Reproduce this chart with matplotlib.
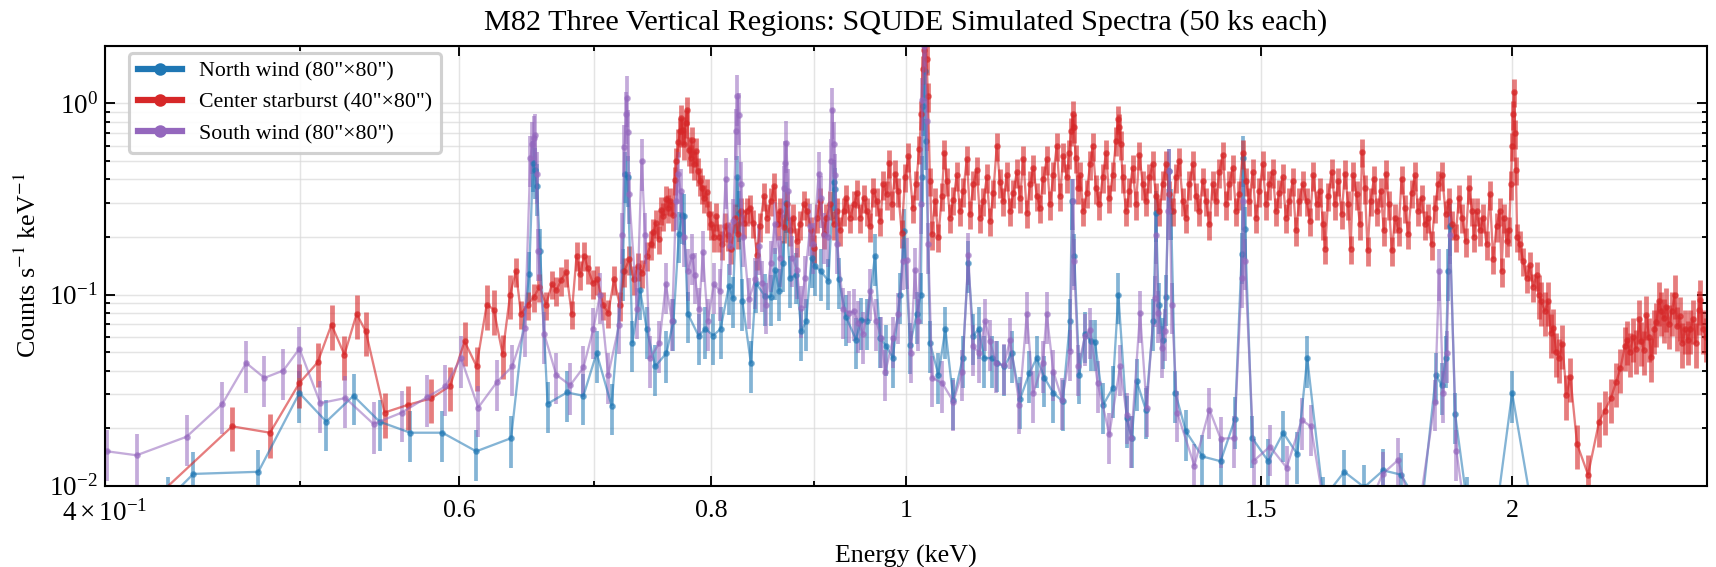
import numpy as np
import matplotlib
matplotlib.use("Agg")
import matplotlib.pyplot as plt
from matplotlib.lines import Line2D

plt.rcParams['font.family'] = ['Liberation Serif', 'DejaVu Serif']
plt.rcParams['mathtext.fontset'] = 'stix'

# --- North wind (80"x80") ---
north_energy = [
    0.430, 0.4425, 0.4767, 0.4996, 0.5152, 0.5315, 0.5476, 0.5671, 0.5884, 0.6116,
    0.6365, 0.6498, 0.6526, 0.6538, 0.6556, 0.6580, 0.6636, 0.6785, 0.6914, 0.7019,
    0.7140, 0.7232, 0.7254, 0.7273, 0.7313, 0.7377, 0.7433, 0.7506, 0.7603, 0.7664,
    0.7712, 0.7739, 0.7757, 0.7790, 0.7887, 0.7950, 0.8020, 0.8088, 0.8166, 0.8204,
    0.8245, 0.8260, 0.8293, 0.8373, 0.8423, 0.8510, 0.8566, 0.8610, 0.8650, 0.8687,
    0.8715, 0.8758, 0.8820, 0.8870, 0.8920, 0.8975, 0.9010, 0.9070, 0.9150, 0.9204,
    0.9218, 0.9260, 0.9336, 0.9444, 0.9496, 0.9566, 0.9650, 0.9707, 0.9778, 0.9850,
    0.9932, 0.9978, 1.0046, 1.0123, 1.0170, 1.0187, 1.0199, 1.0215, 1.0230, 1.0278,
    1.0377, 1.0460, 1.0556, 1.0670, 1.0737, 1.0801, 1.0867, 1.0934, 1.1029, 1.1100,
    1.1189, 1.1285, 1.1393, 1.1515, 1.1613, 1.1716, 1.1835, 1.1962, 1.2063, 1.2090,
    1.2122, 1.2192, 1.2271, 1.2352, 1.2413, 1.2531, 1.2667, 1.2749, 1.2871, 1.2945,
    1.3019, 1.3154, 1.3269, 1.3310, 1.3351, 1.3412, 1.3463, 1.3505, 1.3540, 1.3607,
    1.3774, 1.4034, 1.4331, 1.4568, 1.4680, 1.4707, 1.4736, 1.4860, 1.5134, 1.5394,
    1.5644, 1.5824, 1.6116, 1.6508, 1.6889, 1.7260, 1.7612, 1.8034, 1.8332, 1.8452,
    1.8543, 1.8590, 1.8627, 1.8741, 1.8986, 1.9500, 2.0003, 2.0600,
]
north_rate = [
    0.0085, 0.0115, 0.0118, 0.0305, 0.0216, 0.0295, 0.0216, 0.0189, 0.0189, 0.0151,
    0.0177, 0.128, 0.49, 0.45, 0.37, 0.169, 0.0268, 0.0307, 0.0295, 0.0494,
    0.0262, 0.1326, 0.43, 0.41, 0.056, 0.105, 0.066, 0.042, 0.0494, 0.0725,
    0.208, 0.262, 0.258, 0.0795, 0.0608, 0.066, 0.061, 0.066, 0.111, 0.0953,
    0.41, 0.268, 0.0923, 0.0438, 0.1146, 0.098, 0.0972, 0.134, 0.104, 0.147,
    0.30, 0.122, 0.127, 0.0643, 0.0725, 0.155, 0.141, 0.1326, 0.118, 0.39,
    0.355, 0.12, 0.0764, 0.058, 0.0735, 0.073, 0.159, 0.059, 0.0535, 0.0465,
    0.10, 0.215, 0.0547, 0.079, 0.10, 0.41, 0.97, 1.48, 0.64, 0.0557,
    0.038, 0.066, 0.028, 0.0465, 0.146, 0.061, 0.066, 0.0465, 0.0465, 0.044,
    0.042, 0.0494, 0.0284, 0.0388, 0.0465, 0.0366, 0.0305, 0.0276, 0.0725, 0.31,
    0.159, 0.038, 0.0622, 0.0569, 0.0565, 0.0265, 0.0324, 0.10, 0.0225, 0.0177,
    0.0352, 0.025, 0.0725, 0.268, 0.0886, 0.058, 0.0972, 0.443, 0.274, 0.0305,
    0.0192, 0.0142, 0.0134, 0.0223, 0.162, 0.52, 0.22, 0.0177, 0.0134, 0.0189,
    0.0146, 0.0465, 0.0085, 0.0118, 0.0098, 0.012, 0.0114, 0.0075, 0.038, 0.0335,
    0.0465, 0.1326, 0.228, 0.0236, 0.0085, 0.004, 0.0305, 0.005,
]

# --- Center starburst (40"x80") ---
center_energy = [
    0.4200, 0.4626, 0.4831, 0.4996, 0.5101, 0.5183, 0.5260, 0.5334, 0.5390, 0.5507,
    0.5660, 0.5810, 0.5937, 0.6035, 0.6118, 0.6190, 0.6240, 0.6303, 0.6358,
    0.6400, 0.6437, 0.6488, 0.6535, 0.6575, 0.6625, 0.6670, 0.6703, 0.6740, 0.6780,
    0.6822, 0.6860, 0.6886, 0.6920, 0.6948, 0.6990, 0.7026, 0.7070, 0.7113, 0.7160,
    0.7208, 0.7245, 0.7286, 0.7323, 0.7358, 0.7397, 0.7433, 0.7468, 0.7490, 0.7510,
    0.7534, 0.7553, 0.7577, 0.7597, 0.7617, 0.7638, 0.7660, 0.7675, 0.7690, 0.7708,
    0.7722, 0.7730, 0.7746, 0.7757, 0.7772, 0.7787, 0.7800, 0.7817, 0.7830, 0.7846,
    0.7864, 0.7880, 0.7900, 0.7920, 0.7937, 0.7960, 0.7980, 0.8003, 0.8027, 0.8050,
    0.8078, 0.8100, 0.8130, 0.8160, 0.8188, 0.8220, 0.8250, 0.8280, 0.8310, 0.8333,
    0.8370, 0.8397, 0.8432, 0.8460, 0.8500, 0.8530, 0.8566, 0.8600, 0.8637, 0.8660,
    0.8697, 0.8730, 0.8757, 0.8790, 0.8825, 0.8860, 0.8896, 0.8930, 0.8970, 0.9000,
    0.9027, 0.9065, 0.9100, 0.9130, 0.9170, 0.9204, 0.9240, 0.9270, 0.9310, 0.9340,
    0.9380, 0.9420, 0.9455, 0.9490, 0.9525, 0.9560, 0.9600, 0.9633, 0.9670, 0.9710,
    0.9744, 0.9780, 0.9810, 0.9840, 0.9875, 0.9910, 0.9950, 0.9990,
    1.0027, 1.0077, 1.0115, 1.0153, 1.0176, 1.0192, 1.0207, 1.0222, 1.0238, 1.0253,
    1.0278, 1.0298, 1.0337, 1.0377, 1.0417, 1.0448, 1.0477, 1.0516, 1.0556, 1.0597,
    1.0637, 1.0677, 1.0719, 1.0760, 1.0801, 1.0842, 1.0883, 1.0925, 1.0967, 1.1008,
    1.1050, 1.1093, 1.1135, 1.1177, 1.1220, 1.1263, 1.1306, 1.1349, 1.1393, 1.1436,
    1.1481, 1.1524, 1.1568, 1.1613, 1.1656, 1.1700, 1.1746, 1.1790, 1.1835, 1.1881,
    1.1926, 1.1971, 1.2018, 1.2053, 1.2081, 1.2100, 1.2119, 1.2142, 1.2170, 1.2202,
    1.2248, 1.2296, 1.2342, 1.2380, 1.2427, 1.2474, 1.2523, 1.2570, 1.2618, 1.2667,
    1.2715, 1.2740, 1.2759, 1.2783, 1.2812, 1.2861, 1.2910, 1.2960, 1.3009, 1.3059,
    1.3109, 1.3159, 1.3209, 1.3260, 1.3310, 1.3360, 1.3412, 1.3463, 1.3514, 1.3566,
    1.3618, 1.3669, 1.3722, 1.3774, 1.3827, 1.3881, 1.3933, 1.3986, 1.4040, 1.4094,
    1.4148, 1.4201, 1.4255, 1.4309, 1.4365, 1.4419, 1.4474, 1.4530, 1.4585, 1.4640,
    1.4697, 1.4753, 1.4808, 1.4866, 1.4922, 1.4979, 1.5037, 1.5094, 1.5151, 1.5210,
    1.5267, 1.5325, 1.5384, 1.5442, 1.5501, 1.5561, 1.5620, 1.5680, 1.5740, 1.5812,
    1.5872, 1.5933, 1.5994, 1.6055, 1.6116, 1.6153, 1.6209, 1.6271, 1.6333, 1.6395,
    1.6458, 1.6520, 1.6583, 1.6628, 1.6678, 1.6743, 1.6806, 1.6851, 1.6903, 1.6955,
    1.7013, 1.7077, 1.7142, 1.7209, 1.7273, 1.7313, 1.7372, 1.7432, 1.7498, 1.7566,
    1.7627, 1.7693, 1.7761, 1.7830, 1.7897, 1.7965, 1.8034, 1.8103, 1.8172, 1.8241,
    1.8311, 1.8381, 1.8465, 1.8537, 1.8606, 1.8677, 1.8750, 1.8821, 1.8892, 1.8966,
    1.9038, 1.9110, 1.9148, 1.9205, 1.9277, 1.9350, 1.9426, 1.9499, 1.9573, 1.9649,
    1.9723, 1.9762, 1.9814, 1.9875, 1.9935, 1.9973, 2.0003, 2.0026, 2.0050, 2.0073,
    2.0089, 2.0119, 2.0179, 2.0257, 2.0337, 2.0411, 2.0489, 2.0569, 2.0617, 2.0677,
    2.0765, 2.0843, 2.0901, 2.0963, 2.1043, 2.1107, 2.1188, 2.1285, 2.1382, 2.1545,
    2.1818, 2.2095, 2.2241, 2.2397, 2.2528, 2.2642, 2.2755, 2.2815, 2.2884, 2.2970,
    2.3060, 2.3129, 2.3190, 2.3254, 2.3324, 2.3394, 2.3459, 2.3530, 2.3594, 2.3665,
    2.3730, 2.3793, 2.3866, 2.3939, 2.4013, 2.4096, 2.4160, 2.4230, 2.4306, 2.4379,
    2.4455, 2.4529, 2.4603, 2.4678, 2.4756, 2.4812, 2.4887, 2.4965,
]
center_rate = [
    0.0079, 0.0204, 0.0189, 0.0344, 0.0441, 0.0696, 0.0484, 0.0791, 0.0642, 0.0241,
    0.0265, 0.0286, 0.0333, 0.0569, 0.0421, 0.0886, 0.0834, 0.0490, 0.100,
    0.1326, 0.0791, 0.0886, 0.0972, 0.110, 0.0886, 0.1137, 0.105, 0.119, 0.1315,
    0.0791, 0.160, 0.1273, 0.160, 0.137, 0.1146, 0.1199, 0.0886, 0.080, 0.1199,
    0.0876, 0.1326, 0.153, 0.1199, 0.141, 0.130, 0.160, 0.183, 0.2123, 0.2377,
    0.196, 0.277, 0.258, 0.315, 0.285, 0.309, 0.26, 0.398, 0.50, 0.63,
    0.716, 0.838, 0.727, 0.613, 0.79, 0.926, 0.57, 0.52, 0.644, 0.48,
    0.564, 0.445, 0.393, 0.36, 0.32, 0.344, 0.263, 0.2335, 0.20, 0.258,
    0.20, 0.183, 0.228, 0.204, 0.174, 0.253, 0.208, 0.274, 0.238, 0.274,
    0.285, 0.238, 0.161, 0.228, 0.328, 0.253, 0.309, 0.37, 0.2335, 0.274,
    0.225, 0.297, 0.217, 0.253, 0.19, 0.2335, 0.297, 0.274, 0.217, 0.176,
    0.253, 0.309, 0.208, 0.253, 0.297, 0.2335, 0.274, 0.217, 0.274, 0.32,
    0.253, 0.297, 0.34, 0.253, 0.32, 0.274, 0.228, 0.348, 0.309, 0.243,
    0.378, 0.335, 0.49, 0.297, 0.43, 0.348, 0.211, 0.413,
    0.53, 0.285, 0.378, 0.58, 0.88, 1.52, 1.9, 2.6, 1.7, 1.09,
    0.394, 0.207, 0.309, 0.20, 0.328, 0.55, 0.394, 0.253, 0.314, 0.42,
    0.274, 0.348, 0.51, 0.264, 0.378, 0.45, 0.253, 0.309, 0.41, 0.243,
    0.34, 0.60, 0.387, 0.309, 0.42, 0.274, 0.34, 0.436, 0.32, 0.51,
    0.268, 0.378, 0.46, 0.328, 0.285, 0.404, 0.51, 0.297, 0.42, 0.60,
    0.328, 0.53, 0.41, 0.55, 0.72, 0.88, 0.75, 0.52, 0.36, 0.42,
    0.274, 0.34, 0.48, 0.60, 0.36, 0.297, 0.41, 0.55, 0.32, 0.42,
    0.64, 0.83, 0.75, 0.613, 0.41, 0.274, 0.348, 0.46, 0.297, 0.54,
    0.378, 0.309, 0.41, 0.48, 0.328, 0.274, 0.378, 0.48, 0.335, 0.274,
    0.41, 0.50, 0.309, 0.253, 0.378, 0.48, 0.328, 0.274, 0.393, 0.309,
    0.2335, 0.378, 0.309, 0.436, 0.54, 0.297, 0.378, 0.46, 0.274, 0.335,
    0.55, 0.393, 0.309, 0.436, 0.253, 0.348, 0.48, 0.297, 0.378, 0.436,
    0.274, 0.34, 0.41, 0.253, 0.309, 0.393, 0.217, 0.309, 0.378, 0.309,
    0.243, 0.42, 0.297, 0.348, 0.2335, 0.174, 0.328, 0.436, 0.297, 0.393,
    0.264, 0.43, 0.297, 0.174, 0.42, 0.335, 0.2335, 0.56, 0.36, 0.17,
    0.309, 0.404, 0.274, 0.348, 0.217, 0.43, 0.297, 0.17, 0.253, 0.217,
    0.404, 0.285, 0.208, 0.34, 0.42, 0.274, 0.32, 0.2335, 0.253, 0.183,
    0.285, 0.378, 0.42, 0.264, 0.309, 0.2335, 0.20, 0.32, 0.253, 0.19,
    0.36, 0.274, 0.20, 0.274, 0.217, 0.253, 0.183, 0.335, 0.154, 0.228,
    0.274, 0.1326, 0.253, 0.19, 0.217, 0.378, 0.60, 0.88, 1.15, 0.70,
    0.45, 0.20, 0.183, 0.15, 0.122, 0.142, 0.11, 0.126, 0.10, 0.092,
    0.0818, 0.092, 0.063, 0.067, 0.050, 0.0465, 0.055, 0.0299, 0.037, 0.0165,
    0.0114, 0.0216, 0.0247, 0.0287, 0.0347, 0.041, 0.0536, 0.058, 0.050, 0.060,
    0.052, 0.074, 0.057, 0.051, 0.078, 0.060, 0.047, 0.066, 0.072, 0.092,
    0.082, 0.075, 0.086, 0.070, 0.082, 0.100, 0.068, 0.077, 0.056, 0.066,
    0.058, 0.066, 0.074, 0.056, 0.083, 0.094, 0.066, 0.060,
]

# --- South wind (80"x80") ---
south_energy = [
    0.4010, 0.4147, 0.4391, 0.4574, 0.4701, 0.4800, 0.4905, 0.4996, 0.5117, 0.5266,
    0.5438, 0.5617, 0.5781, 0.5903, 0.6010, 0.6130, 0.6265, 0.6373, 0.6466, 0.6507,
    0.6522, 0.6531, 0.6544, 0.6555, 0.6565, 0.6611, 0.6702, 0.6810, 0.6914, 0.6992,
    0.7047, 0.7113, 0.7203, 0.7228, 0.7245, 0.7259, 0.7264, 0.7274, 0.7285, 0.7351,
    0.7390, 0.7420, 0.7462, 0.7542, 0.7597, 0.7652, 0.7687, 0.7708, 0.7726, 0.7753,
    0.7790, 0.7830, 0.7853, 0.7893, 0.7926, 0.7970, 0.8027, 0.8085, 0.8135, 0.8172,
    0.8208, 0.8233, 0.8245, 0.8258, 0.8276, 0.8301, 0.8355, 0.8418, 0.8452, 0.8485,
    0.8518, 0.8566, 0.8603, 0.8659, 0.8694, 0.8710, 0.8721, 0.8738, 0.8780, 0.8826,
    0.8866, 0.8908, 0.8961, 0.8994, 0.9049, 0.9071, 0.9099, 0.9143, 0.9178, 0.9191,
    0.9206, 0.9223, 0.9244, 0.9308, 0.9372, 0.9421, 0.9468, 0.9522, 0.9601, 0.9666,
    0.9720, 0.9767, 0.9854, 0.9912, 0.9965, 1.0007, 1.0053, 1.0103, 1.0141, 1.0173,
    1.0188, 1.0207, 1.0222, 1.0238, 1.0257, 1.0303, 1.0422, 1.0556, 1.0665, 1.0739,
    1.0793, 1.0874, 1.0947, 1.1008, 1.1084, 1.1185, 1.1263, 1.1384, 1.1481, 1.1568,
    1.1693, 1.1746, 1.1835, 1.1957, 1.2063, 1.2100, 1.2119, 1.2179, 1.2271, 1.2342,
    1.2450, 1.2618, 1.2773, 1.2871, 1.2939, 1.3069, 1.3169, 1.3289, 1.3310, 1.3346,
    1.3396, 1.3448, 1.3495, 1.3514, 1.3550, 1.3638, 1.3907, 1.4148, 1.4331, 1.4557,
    1.4680, 1.4707, 1.4736, 1.4888, 1.5163, 1.5455, 1.5723, 1.5890, 1.6148, 1.6800,
    1.7247, 1.7558, 1.7930, 1.8311, 1.8402, 1.8486, 1.8558, 1.8627, 1.8769, 1.8950,
]
south_rate = [
    0.0151, 0.0144, 0.018, 0.0267, 0.0438, 0.0366, 0.040, 0.052, 0.027, 0.0287,
    0.021, 0.0241, 0.029, 0.033, 0.0465, 0.0256, 0.035, 0.042, 0.0669, 0.52,
    0.613, 0.66, 0.68, 0.427, 0.169, 0.062, 0.038, 0.0335, 0.0415, 0.0657,
    0.10, 0.038, 0.0696, 0.206, 0.59, 0.88, 1.07, 0.71, 0.335, 0.0835,
    0.50, 0.206, 0.0465, 0.0557, 0.113, 0.0725, 0.31, 0.427, 0.35, 0.20,
    0.1326, 0.16, 0.127, 0.0835, 0.166, 0.0725, 0.113, 0.104, 0.40, 0.18,
    0.243, 0.72, 1.09, 0.87, 0.38, 0.20, 0.0942, 0.12, 0.18, 0.115,
    0.0886, 0.147, 0.2335, 0.156, 0.36, 0.49, 0.62, 0.348, 0.156, 0.135,
    0.085, 0.122, 0.228, 0.183, 0.43, 0.32, 0.206, 0.20, 0.50, 0.93,
    0.613, 0.42, 0.183, 0.0835, 0.080, 0.0818, 0.071, 0.062, 0.104, 0.0725,
    0.059, 0.0395, 0.059, 0.0786, 0.15, 0.152, 0.0494, 0.135, 0.0725, 0.297,
    1.04, 2.0, 2.6, 0.81, 0.183, 0.0366, 0.0344, 0.0275, 0.0395, 0.161,
    0.0535, 0.0494, 0.0725, 0.0569, 0.0438, 0.0426, 0.058, 0.0265, 0.0791, 0.0305,
    0.0438, 0.0791, 0.0395, 0.028, 0.0504, 0.31, 0.15, 0.042, 0.0605, 0.0655,
    0.0344, 0.0185, 0.042, 0.0235, 0.0177, 0.080, 0.0255, 0.096, 0.206, 0.080,
    0.0525, 0.0643, 0.274, 0.443, 0.0886, 0.024, 0.0127, 0.025, 0.0176, 0.0177,
    0.122, 0.31, 0.15, 0.0135, 0.016, 0.0124, 0.022, 0.0204, 0.0073, 0.006,
    0.0115, 0.0136, 0.006, 0.0275, 0.1326, 0.0305, 0.0494, 0.206, 0.0151, 0.0073,
]

# fractional 1-sigma uncertainty per bin (grouped spectra)
north_frac_err = 0.30
south_frac_err = 0.30
center_frac_err_dense = 0.17
center_frac_err_sparse = 0.26

colors = {'north': '#1f77b4', 'center': '#d62728', 'south': '#9467bd'}
labels = {'north': 'North wind (80"×80")',
          'center': 'Center starburst (40"×80")',
          'south': 'South wind (80"×80")'}

fig = plt.figure(figsize=(11.44, 3.78), dpi=150)
ax = fig.add_axes([0.0612, 0.1437, 0.9336, 0.7752])

north_e = np.array(north_energy)
north_r = np.array(north_rate)
center_e = np.array(center_energy)
center_r = np.array(center_rate)
south_e = np.array(south_energy)
south_r = np.array(south_rate)

center_frac = np.where((center_e < 0.64) | (center_e > 2.06),
                       center_frac_err_sparse, center_frac_err_dense)

series = [
    ('north', north_e, north_r, north_r * north_frac_err, 1.8, 0.55),
    ('center', center_e, center_r, center_r * center_frac, 2.3, 0.6),
    ('south', south_e, south_r, south_r * south_frac_err, 1.8, 0.55),
]
for key, e, r, err, elw, a in series:
    ax.errorbar(e, r, yerr=err, fmt='-o', color=colors[key], ms=2.2, lw=1.1,
                elinewidth=elw, capsize=0, alpha=a)

ax.set_xscale('log')
ax.set_yscale('log')
ax.set_xlim(0.4, 2.5)
ax.set_ylim(0.01, 2.0)
ax.set_xticks([0.6, 0.8, 1.0, 1.5, 2.0])
ax.set_xticklabels(['0.6', '0.8', '1', '1.5', '2'])

ax.tick_params(which='both', direction='in', top=True, right=True, width=0.9)
ax.tick_params(which='major', length=5, labelsize=13)
ax.tick_params(which='minor', length=2.5, labelsize=13)
ax.tick_params(axis='x', which='both', pad=7)
ax.tick_params(axis='x', which='major', labelsize=12.5)
ax.grid(True, which='both', color='#d9d9d9', lw=0.7, alpha=0.7)
for s in ax.spines.values():
    s.set_linewidth(1.0)

ax.set_xlabel('Energy (keV)', fontsize=12.5, labelpad=9)
ax.set_ylabel(r'Counts s$^{-1}$ keV$^{-1}$', fontsize=12.5)
ax.set_title('M82 Three Vertical Regions: SQUDE Simulated Spectra (50 ks each)',
             fontsize=14.5, pad=8)

handles = [Line2D([], [], color=colors[k], lw=3, marker='o', ms=5)
           for k in ('north', 'center', 'south')]
leg = ax.legend(handles, [labels[k] for k in ('north', 'center', 'south')],
                loc='upper left', bbox_to_anchor=(0.015, 0.985), borderaxespad=0,
                fontsize=10.5, frameon=True, fancybox=True, framealpha=0.9,
                edgecolor='#cccccc', handlelength=2.0)
leg.get_frame().set_linewidth(1.5)

fig.savefig('out.png', dpi=150)
